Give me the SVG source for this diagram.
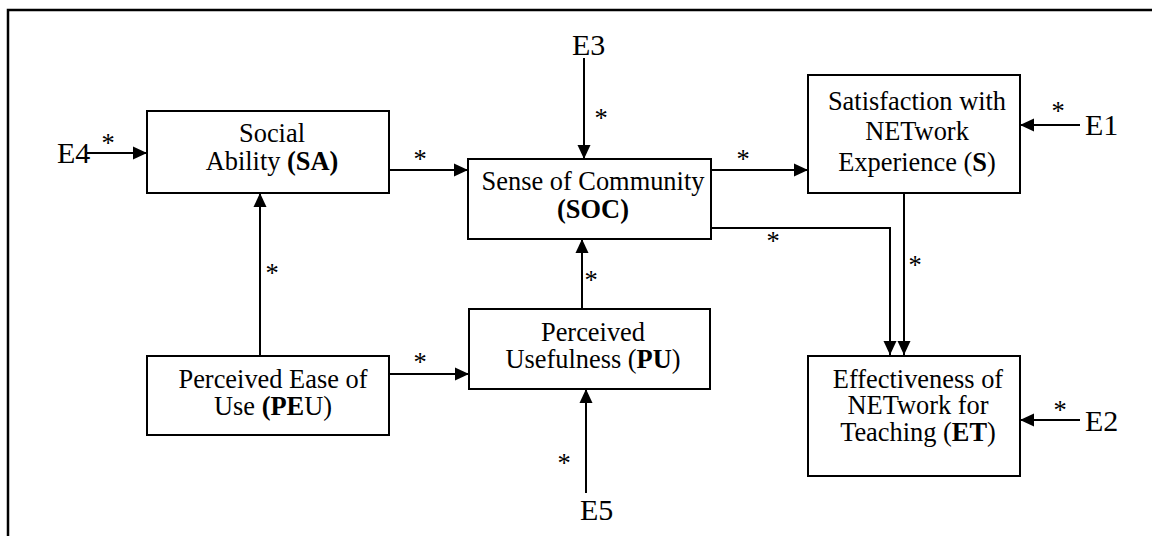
<svg xmlns="http://www.w3.org/2000/svg" width="1152" height="536" viewBox="0 0 1152 536" font-family="'Liberation Serif', 'Times New Roman', serif">
<style>
.box{fill:#fff;stroke:#000;stroke-width:2}
.c{fill:none;stroke:#000;stroke-width:2}
.lbl{font-family:'Liberation Serif','Times New Roman',serif;font-size:26.4px;fill:#000;text-anchor:middle}
.err{font-family:'Liberation Serif','Times New Roman',serif;font-size:30px;fill:#000}
</style>
<defs>
<marker id="ah" markerUnits="userSpaceOnUse" markerWidth="14" markerHeight="14" viewBox="0 0 14 14" refX="14" refY="7" orient="auto">
<path d="M0,0.5 L14,7 L0,13.5 Z" fill="#000"/>
</marker>
</defs>
<rect width="1152" height="536" fill="#fff"/>
<path d="M8,536 V10 H1152" fill="none" stroke="#000" stroke-width="2.5"/>

<g id="connectors">
<line class="c" x1="87" y1="153" x2="147" y2="153" marker-end="url(#ah)"/>
<line class="c" x1="584" y1="58" x2="584" y2="159" marker-end="url(#ah)"/>
<line class="c" x1="389" y1="170" x2="468" y2="170" marker-end="url(#ah)"/>
<line class="c" x1="711" y1="170" x2="808" y2="170" marker-end="url(#ah)"/>
<line class="c" x1="1080" y1="125" x2="1020" y2="125" marker-end="url(#ah)"/>
<polyline class="c" points="711,228 890,228 890,355" marker-end="url(#ah)"/>
<line class="c" x1="904" y1="193" x2="904" y2="355" marker-end="url(#ah)"/>
<line class="c" x1="1080" y1="420" x2="1020" y2="420" marker-end="url(#ah)"/>
<line class="c" x1="260" y1="356" x2="260" y2="193" marker-end="url(#ah)"/>
<line class="c" x1="389" y1="374" x2="469" y2="374" marker-end="url(#ah)"/>
<line class="c" x1="582" y1="309" x2="582" y2="239" marker-end="url(#ah)"/>
<line class="c" x1="586" y1="493" x2="586" y2="389" marker-end="url(#ah)"/>
<text class="lbl" x="108" y="152">*</text>
<text class="lbl" x="601" y="127">*</text>
<text class="lbl" x="420" y="168">*</text>
<text class="lbl" x="743" y="168">*</text>
<text class="lbl" x="1058" y="120">*</text>
<text class="lbl" x="773" y="250">*</text>
<text class="lbl" x="915" y="274">*</text>
<text class="lbl" x="1060" y="419">*</text>
<text class="lbl" x="272" y="282">*</text>
<text class="lbl" x="591" y="289">*</text>
<text class="lbl" x="420" y="371">*</text>
<text class="lbl" x="564" y="472">*</text>
</g>

<g id="E4"><text class="err" x="57" y="163">E4</text></g>
<g id="E3"><text class="err" x="572" y="55">E3</text></g>
<g id="E1"><text class="err" x="1085" y="135">E1</text></g>
<g id="E2"><text class="err" x="1085" y="431">E2</text></g>
<g id="E5"><text class="err" x="580" y="520">E5</text></g>

<g id="SA">
<rect class="box" x="147" y="111" width="242" height="82"/>
<text class="lbl" x="272" y="142">Social</text>
<text class="lbl" x="272" y="170">Ability <tspan font-weight="bold">(SA)</tspan></text>
</g>
<g id="SOC">
<rect class="box" x="468" y="159" width="243" height="80"/>
<text class="lbl" x="593" y="190">Sense of Community</text>
<text class="lbl" x="593" y="218" font-weight="bold">(SOC)</text>
</g>
<g id="S">
<rect class="box" x="808" y="75" width="212" height="118"/>
<text class="lbl" x="917" y="110">Satisfaction with</text>
<text class="lbl" x="917" y="140">NETwork</text>
<text class="lbl" x="917" y="171">Experience (<tspan font-weight="bold">S</tspan>)</text>
</g>
<g id="ET">
<rect class="box" x="808" y="356" width="212" height="120"/>
<text class="lbl" x="918" y="388">Effectiveness of</text>
<text class="lbl" x="918" y="414">NETwork for</text>
<text class="lbl" x="918" y="441">Teaching (<tspan font-weight="bold">ET</tspan>)</text>
</g>
<g id="PEU">
<rect class="box" x="147" y="356" width="242" height="79"/>
<text class="lbl" x="273" y="388">Perceived Ease of</text>
<text class="lbl" x="273" y="415">Use <tspan font-weight="bold">(PE</tspan>U)</text>
</g>
<g id="PU">
<rect class="box" x="469" y="309" width="241" height="80"/>
<text class="lbl" x="593" y="341">Perceived</text>
<text class="lbl" x="593" y="368">Usefulness (<tspan font-weight="bold">PU</tspan>)</text>
</g>
</svg>
